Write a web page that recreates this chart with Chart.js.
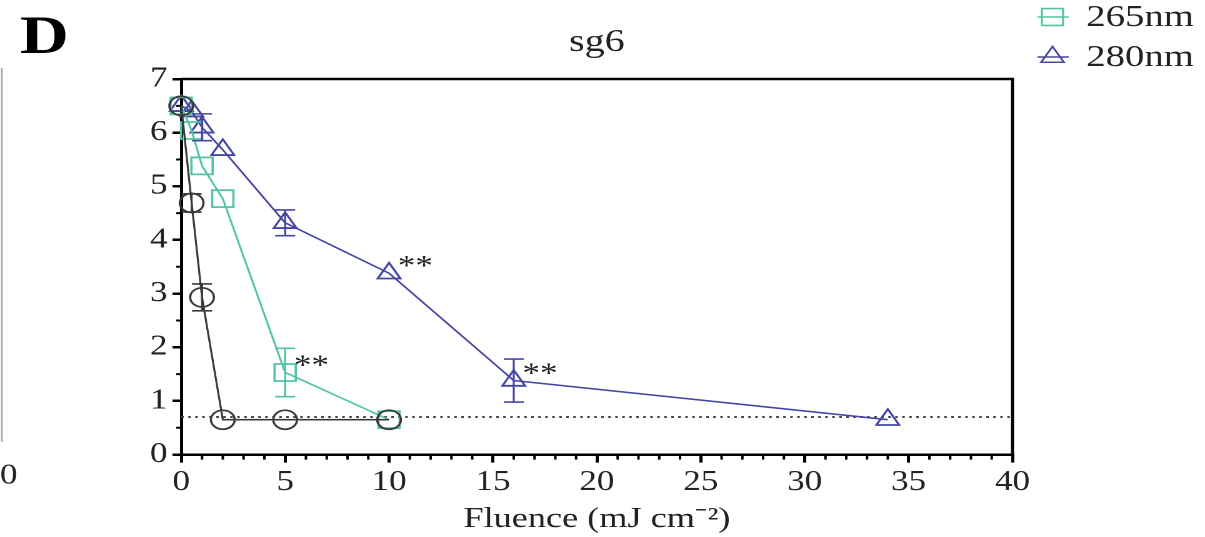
<!DOCTYPE html>
<html>
<head>
<meta charset="utf-8">
<script src="https://cdn.jsdelivr.net/npm/chart.js@4"></script>
<style>
  html, body { margin: 0; padding: 0; background: #fff; overflow: hidden; }
  /* the source figure is stretched sideways, so the whole chart is too */
  #wrap { position: absolute; left: 0; top: 0; width: 964px; height: 537px;
          transform: scaleX(1.25); transform-origin: 0 0; }
</style>
</head>
<body>
<div id="wrap"><canvas id="sg6"></canvas></div>
<script>
// log reduction vs fluence, panel D (sg6)
const fluenceBlack = [0, 0.5, 1, 2, 5, 10];
const logBlack = [6.5, 4.69, 2.93, 0.65, 0.65, 0.65];
const errBlack = [0, 0.17, 0.25, 0, 0, 0];

const fluence265 = [0, 0.5, 1, 2, 5, 10];
const log265 = [6.5, 6.04, 5.38, 4.77, 1.53, 0.65];
const err265 = [0, 0, 0, 0, 0.45, 0];
const sig265 = ['', '', '', '', '**', ''];

const fluence280 = [0, 0.5, 1, 2, 5, 10, 16, 34];
const log280 = [6.5, 6.4, 6.1, 5.68, 4.32, 3.38, 1.38, 0.65];
const err280 = [0, 0, 0.25, 0, 0.24, 0, 0.4, 0];
const sig280 = ['', '', '', '', '', '**', '**', ''];

const detectionLimit = 0.7;
const xTicks = [0, 5, 10, 15, 20, 25, 30, 35, 40];
const yTicks = [0, 1, 2, 3, 4, 5, 6, 7];

const serif = '"Liberation Serif", "Times New Roman", serif';
const black = '#3a3a3a';
const green = '#52c3a6';
const blue = '#4646a3';

function pts(xs, ys) {
  return xs.map((x, i) => ({ x: x, y: ys[i] }));
}

const extras = {
  id: 'extras',
  afterDatasetsDraw(chart) {
    const ctx = chart.ctx;
    const xs = chart.scales.x, ys = chart.scales.y;
    ctx.save();
    chart.data.datasets.forEach((ds, di) => {
      if (!ds.err) return;
      ctx.strokeStyle = ds.borderColor;
      ctx.lineWidth = 1.6;
      ds.data.forEach((p, i) => {
        const e = ds.err[i];
        if (!e) return;
        const px = xs.getPixelForValue(p.x);
        const top = ys.getPixelForValue(p.y + e);
        const bot = ys.getPixelForValue(p.y - e);
        ctx.beginPath();
        ctx.moveTo(px, top); ctx.lineTo(px, bot);
        ctx.moveTo(px - 8, top); ctx.lineTo(px + 8, top);
        ctx.moveTo(px - 8, bot); ctx.lineTo(px + 8, bot);
        ctx.stroke();
      });
      if (ds.sig) {
        ctx.fillStyle = '#222';
        ctx.font = '28px ' + serif;
        ctx.textAlign = 'left';
        ctx.textBaseline = 'alphabetic';
        ds.data.forEach((p, i) => {
          if (!ds.sig[i]) return;
          ctx.fillText(ds.sig[i], xs.getPixelForValue(p.x) + 7, ys.getPixelForValue(p.y) + 2);
        });
      }
    });
    ctx.restore();
  },
  afterDraw(chart) {
    const ctx = chart.ctx;
    const a = chart.chartArea;
    const xs = chart.scales.x, ys = chart.scales.y;
    ctx.save();
    // box top and right
    ctx.strokeStyle = '#000';
    ctx.lineWidth = 2.5;
    ctx.beginPath();
    ctx.moveTo(a.left, a.top); ctx.lineTo(a.right, a.top); ctx.lineTo(a.right, a.bottom);
    ctx.stroke();
    // minor ticks
    ctx.lineWidth = 2;
    ctx.beginPath();
    for (let v = 1; v < 40; v++) {
      if (v % 5 === 0) continue;
      const px = xs.getPixelForValue(v);
      ctx.moveTo(px, a.bottom); ctx.lineTo(px, a.bottom + 5);
    }
    for (let v = 0.5; v < 7; v += 1) {
      const py = ys.getPixelForValue(v);
      ctx.moveTo(a.left, py); ctx.lineTo(a.left - 4, py);
    }
    ctx.stroke();

    // panel letter and title
    ctx.fillStyle = '#000';
    ctx.textBaseline = 'alphabetic';
    ctx.textAlign = 'left';
    ctx.font = 'bold 54px ' + serif;
    ctx.fillText('D', 16, 53);
    ctx.textAlign = 'center';
    ctx.font = '32px ' + serif;
    ctx.fillStyle = '#222';
    ctx.fillText('sg6', (a.left + a.right) / 2, 51);

    // legend
    const entries = chart.data.datasets.filter(d => d.inLegend);
    entries.forEach((ds, k) => {
      const cy = 17 + k * 40;
      ctx.strokeStyle = ds.borderColor;
      ctx.fillStyle = 'rgba(0,0,0,0)';
      ctx.lineWidth = 1.6;
      ctx.beginPath();
      ctx.moveTo(830, cy); ctx.lineTo(855, cy);
      ctx.stroke();
      Chart.helpers.drawPoint(ctx, {
        pointStyle: ds.pointStyle, radius: ds.pointRadius, borderWidth: 1.8, rotation: 0
      }, 842, cy);
      ctx.fillStyle = '#222';
      ctx.textAlign = 'left';
      ctx.textBaseline = 'middle';
      ctx.font = '31px ' + serif;
      ctx.fillText(ds.label, 869, cy + 1);
    });

    // edge of the neighbouring panel
    ctx.strokeStyle = '#aaa';
    ctx.lineWidth = 1.5;
    ctx.beginPath();
    ctx.moveTo(1.5, 68); ctx.lineTo(1.5, 442);
    ctx.stroke();
    ctx.fillStyle = '#222';
    ctx.font = '28px ' + serif;
    ctx.textAlign = 'left';
    ctx.textBaseline = 'middle';
    ctx.fillText('0', 0, 476);
    ctx.restore();
  }
};

const ctx = document.getElementById('sg6');

new Chart(ctx, {
  type: 'scatter',
  data: {
    datasets: [
      {
        label: '',
        data: pts(fluenceBlack, logBlack),
        err: errBlack,
        showLine: true,
        borderColor: black,
        borderWidth: 1.6,
        pointStyle: 'circle',
        pointRadius: 9.5,
        pointBorderWidth: 1.8,
        pointBackgroundColor: 'rgba(0,0,0,0)',
        clip: false
      },
      {
        label: '265nm',
        inLegend: true,
        data: pts(fluence265, log265),
        err: err265,
        sig: sig265,
        showLine: true,
        borderColor: green,
        borderWidth: 1.6,
        pointStyle: 'rect',
        pointRadius: 12,
        pointBorderWidth: 1.8,
        pointBackgroundColor: 'rgba(0,0,0,0)',
        clip: false
      },
      {
        label: '280nm',
        inLegend: true,
        data: pts(fluence280, log280),
        err: err280,
        sig: sig280,
        showLine: true,
        borderColor: blue,
        borderWidth: 1.6,
        pointStyle: 'triangle',
        pointRadius: 10.5,
        pointBorderWidth: 1.8,
        pointBackgroundColor: 'rgba(0,0,0,0)',
        clip: false
      },
      {
        label: 'limit',
        data: [{ x: xTicks[0], y: detectionLimit }, { x: xTicks[xTicks.length - 1], y: detectionLimit }],
        showLine: true,
        borderColor: '#444',
        borderWidth: 2,
        borderDash: [2, 3.6],
        pointRadius: 0
      }
    ]
  },
  options: {
    responsive: true,
    maintainAspectRatio: false,
    animation: false,
    devicePixelRatio: 2,
    layout: { padding: { left: 85, right: 154, top: 79, bottom: 0 } },
    plugins: {
      legend: { display: false },
      tooltip: { enabled: false }
    },
    scales: {
      x: {
        type: 'linear',
        min: xTicks[0],
        max: xTicks[xTicks.length - 1],
        afterBuildTicks: s => { s.ticks = xTicks.map(v => ({ value: v })); },
        grid: { drawOnChartArea: false, drawTicks: true, tickLength: 8, color: '#000', lineWidth: 2.5 },
        border: { color: '#000', width: 2.5 },
        ticks: { color: '#222', font: { family: serif, size: 28 }, padding: 3, maxRotation: 0 },
        title: {
          display: true,
          text: 'Fluence (mJ cm\u207B\u00B2)',
          color: '#222',
          font: { family: serif, size: 29 },
          padding: { top: 0, bottom: 0 }
        }
      },
      y: {
        type: 'linear',
        min: yTicks[0],
        max: yTicks[yTicks.length - 1],
        afterBuildTicks: s => { s.ticks = yTicks.map(v => ({ value: v })); },
        afterFit: s => { s.width = 60; },
        grid: { drawOnChartArea: false, drawTicks: true, tickLength: 7, color: '#000', lineWidth: 2.5 },
        border: { color: '#000', width: 2.5 },
        ticks: { color: '#222', font: { family: serif, size: 28 }, padding: 4 }
      }
    }
  },
  plugins: [extras]
});
</script>
</body>
</html>
